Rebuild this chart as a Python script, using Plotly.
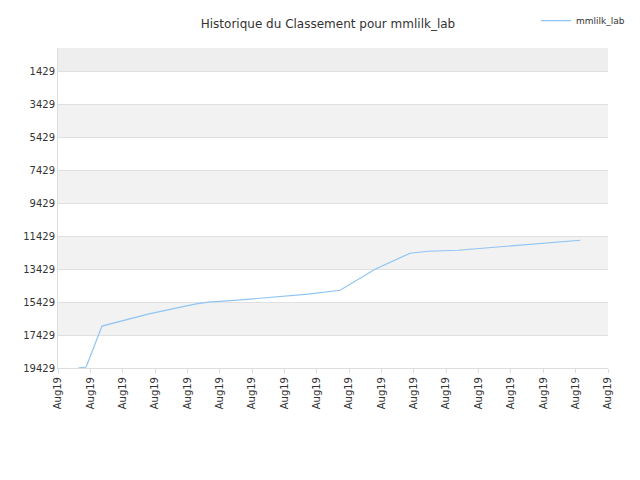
import plotly.graph_objects as go

x_pos = [0.62, 0.87, 1.36, 2.78, 4.23, 4.64, 5.56, 6.65, 7.73, 8.72, 9.80, 10.88, 11.44, 12.36, 13.91, 15.14, 16.14]
ranks = [19429, 19368, 16880, 16150, 15540, 15420, 15300, 15120, 14940, 14700, 13420, 12450, 12330, 12270, 12030, 11840, 11660]
tick_vals = list(range(0, 18))
tick_text = ["Aug19"] * 18
y_ticks = [1429, 3429, 5429, 7429, 9429, 11429, 13429, 15429, 17429, 19429]
y_text = [str(v) for v in y_ticks]

fig = go.Figure()
fig.add_trace(go.Scatter(x=x_pos, y=ranks, mode="lines", name="mmlilk_lab",
                         line=dict(color="#90c4f4", width=1.2)))

shapes = []
bands = [(-30, 1429, "#eeeeee"), (3429, 5429, "#f2f2f2"), (7429, 9429, "#f2f2f2"),
         (11429, 13429, "#f2f2f2"), (15429, 17429, "#f2f2f2")]
for a, b, c in bands:
    shapes.append(dict(type="rect", xref="paper", yref="y", x0=0, x1=1, y0=a, y1=b,
                       fillcolor=c, line_width=0, layer="below"))

fig.update_layout(
    width=640, height=480, plot_bgcolor="white", paper_bgcolor="white",
    margin=dict(l=50, r=40, t=40, b=120, autoexpand=False),
    title=dict(text="Historique du Classement pour mmlilk_lab", x=0.5, y=0.975,
               xanchor="center", font=dict(family="DejaVu Sans", size=12, color="#333")),
    font=dict(family="DejaVu Sans", size=10, color="#333"),
    showlegend=True,
    legend=dict(x=1.04, y=1.04, xanchor="right", yanchor="bottom", font=dict(size=9),
                bgcolor="rgba(0,0,0,0)"),
    shapes=shapes,
    xaxis=dict(range=[0, 17], tickvals=tick_vals, ticktext=tick_text, tickangle=-90,
               showgrid=False, zeroline=False, showline=True, linecolor="#ddd",
               ticks="outside", ticklen=4, tickcolor="#ddd"),
    yaxis=dict(range=[19429, -30], tickvals=y_ticks, ticktext=y_text, showgrid=True,
               gridcolor="#e0e0e0", zeroline=False, showline=True, linecolor="#ddd"),
)
fig.write_html("out.html")
